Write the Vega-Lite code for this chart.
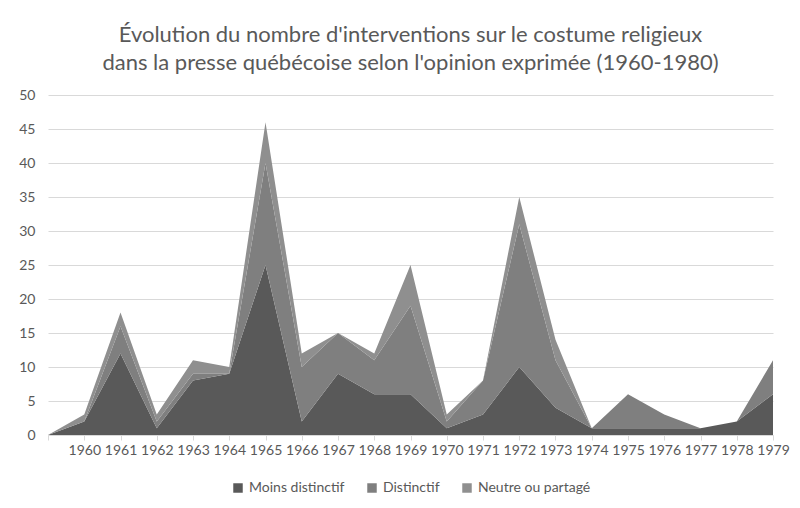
{
  "$schema": "https://vega.github.io/schema/vega-lite/v6.json",
  "width": 725,
  "height": 340,
  "autosize": {"type": "none"},
  "padding": {"left": 48, "top": 95, "right": 27, "bottom": 73},
  "background": "#ffffff",
  "title": {
    "text": ["Évolution du nombre d'interventions sur le costume religieux", "dans la presse québécoise selon l'opinion exprimée (1960-1980)"],
    "font": "Lato",
    "fontSize": 22,
    "fontWeight": "normal",
    "color": "#595959",
    "lineHeight": 28,
    "offset": 13,
    "anchor": "middle"
  },
  "data": {
    "values": [
      {"annee": 1959, "opinion": "Moins distinctif", "rang": 1, "n": 0},
      {"annee": 1959, "opinion": "Distinctif", "rang": 2, "n": 0},
      {"annee": 1959, "opinion": "Neutre ou partagé", "rang": 3, "n": 0},
      {"annee": 1960, "opinion": "Moins distinctif", "rang": 1, "n": 2},
      {"annee": 1960, "opinion": "Distinctif", "rang": 2, "n": 0},
      {"annee": 1960, "opinion": "Neutre ou partagé", "rang": 3, "n": 1},
      {"annee": 1961, "opinion": "Moins distinctif", "rang": 1, "n": 12},
      {"annee": 1961, "opinion": "Distinctif", "rang": 2, "n": 4},
      {"annee": 1961, "opinion": "Neutre ou partagé", "rang": 3, "n": 2},
      {"annee": 1962, "opinion": "Moins distinctif", "rang": 1, "n": 1},
      {"annee": 1962, "opinion": "Distinctif", "rang": 2, "n": 1},
      {"annee": 1962, "opinion": "Neutre ou partagé", "rang": 3, "n": 1},
      {"annee": 1963, "opinion": "Moins distinctif", "rang": 1, "n": 8},
      {"annee": 1963, "opinion": "Distinctif", "rang": 2, "n": 1},
      {"annee": 1963, "opinion": "Neutre ou partagé", "rang": 3, "n": 2},
      {"annee": 1964, "opinion": "Moins distinctif", "rang": 1, "n": 9},
      {"annee": 1964, "opinion": "Distinctif", "rang": 2, "n": 0},
      {"annee": 1964, "opinion": "Neutre ou partagé", "rang": 3, "n": 1},
      {"annee": 1965, "opinion": "Moins distinctif", "rang": 1, "n": 25},
      {"annee": 1965, "opinion": "Distinctif", "rang": 2, "n": 15},
      {"annee": 1965, "opinion": "Neutre ou partagé", "rang": 3, "n": 6},
      {"annee": 1966, "opinion": "Moins distinctif", "rang": 1, "n": 2},
      {"annee": 1966, "opinion": "Distinctif", "rang": 2, "n": 8},
      {"annee": 1966, "opinion": "Neutre ou partagé", "rang": 3, "n": 2},
      {"annee": 1967, "opinion": "Moins distinctif", "rang": 1, "n": 9},
      {"annee": 1967, "opinion": "Distinctif", "rang": 2, "n": 6},
      {"annee": 1967, "opinion": "Neutre ou partagé", "rang": 3, "n": 0},
      {"annee": 1968, "opinion": "Moins distinctif", "rang": 1, "n": 6},
      {"annee": 1968, "opinion": "Distinctif", "rang": 2, "n": 5},
      {"annee": 1968, "opinion": "Neutre ou partagé", "rang": 3, "n": 1},
      {"annee": 1969, "opinion": "Moins distinctif", "rang": 1, "n": 6},
      {"annee": 1969, "opinion": "Distinctif", "rang": 2, "n": 13},
      {"annee": 1969, "opinion": "Neutre ou partagé", "rang": 3, "n": 6},
      {"annee": 1970, "opinion": "Moins distinctif", "rang": 1, "n": 1},
      {"annee": 1970, "opinion": "Distinctif", "rang": 2, "n": 1},
      {"annee": 1970, "opinion": "Neutre ou partagé", "rang": 3, "n": 1},
      {"annee": 1971, "opinion": "Moins distinctif", "rang": 1, "n": 3},
      {"annee": 1971, "opinion": "Distinctif", "rang": 2, "n": 5},
      {"annee": 1971, "opinion": "Neutre ou partagé", "rang": 3, "n": 0},
      {"annee": 1972, "opinion": "Moins distinctif", "rang": 1, "n": 10},
      {"annee": 1972, "opinion": "Distinctif", "rang": 2, "n": 21},
      {"annee": 1972, "opinion": "Neutre ou partagé", "rang": 3, "n": 4},
      {"annee": 1973, "opinion": "Moins distinctif", "rang": 1, "n": 4},
      {"annee": 1973, "opinion": "Distinctif", "rang": 2, "n": 7},
      {"annee": 1973, "opinion": "Neutre ou partagé", "rang": 3, "n": 3},
      {"annee": 1974, "opinion": "Moins distinctif", "rang": 1, "n": 1},
      {"annee": 1974, "opinion": "Distinctif", "rang": 2, "n": 0},
      {"annee": 1974, "opinion": "Neutre ou partagé", "rang": 3, "n": 0},
      {"annee": 1975, "opinion": "Moins distinctif", "rang": 1, "n": 1},
      {"annee": 1975, "opinion": "Distinctif", "rang": 2, "n": 5},
      {"annee": 1975, "opinion": "Neutre ou partagé", "rang": 3, "n": 0},
      {"annee": 1976, "opinion": "Moins distinctif", "rang": 1, "n": 1},
      {"annee": 1976, "opinion": "Distinctif", "rang": 2, "n": 2},
      {"annee": 1976, "opinion": "Neutre ou partagé", "rang": 3, "n": 0},
      {"annee": 1977, "opinion": "Moins distinctif", "rang": 1, "n": 1},
      {"annee": 1977, "opinion": "Distinctif", "rang": 2, "n": 0},
      {"annee": 1977, "opinion": "Neutre ou partagé", "rang": 3, "n": 0},
      {"annee": 1978, "opinion": "Moins distinctif", "rang": 1, "n": 2},
      {"annee": 1978, "opinion": "Distinctif", "rang": 2, "n": 0},
      {"annee": 1978, "opinion": "Neutre ou partagé", "rang": 3, "n": 0},
      {"annee": 1979, "opinion": "Moins distinctif", "rang": 1, "n": 6},
      {"annee": 1979, "opinion": "Distinctif", "rang": 2, "n": 5},
      {"annee": 1979, "opinion": "Neutre ou partagé", "rang": 3, "n": 0}
    ]
  },
  "mark": {"type": "area", "interpolate": "linear", "opacity": 1},
  "encoding": {
    "x": {
      "field": "annee",
      "type": "quantitative",
      "scale": {"domain": [1959, 1979], "nice": false, "zero": false},
      "axis": {
        "title": null,
        "values": [1959, 1960, 1961, 1962, 1963, 1964, 1965, 1966, 1967, 1968, 1969, 1970, 1971, 1972, 1973, 1974, 1975, 1976, 1977, 1978, 1979],
        "labelExpr": "datum.value == 1959 ? '' : format(datum.value, 'd')",
        "grid": false,
        "domain": true,
        "domainColor": "#d9d9d9",
        "domainWidth": 1,
        "ticks": true,
        "tickColor": "#d9d9d9",
        "tickSize": 5,
        "labelPadding": 3,
        "labelFont": "Lato",
        "labelFontSize": 14,
        "labelColor": "#595959",
        "labelFlush": false,
        "labelOverlap": false
      }
    },
    "y": {
      "field": "n",
      "type": "quantitative",
      "stack": "zero",
      "scale": {"domain": [0, 50], "nice": false},
      "axis": {
        "title": null,
        "values": [0, 5, 10, 15, 20, 25, 30, 35, 40, 45, 50],
        "domain": false,
        "ticks": false,
        "grid": true,
        "gridColor": "#d9d9d9",
        "gridWidth": 1,
        "labelPadding": 13,
        "labelFont": "Lato",
        "labelFontSize": 14,
        "labelColor": "#595959"
      }
    },
    "color": {
      "field": "opinion",
      "type": "nominal",
      "scale": {
        "domain": ["Moins distinctif", "Distinctif", "Neutre ou partagé"],
        "range": ["#595959", "#7f7f7f", "#8f8f8f"]
      },
      "legend": {
        "title": null,
        "orient": "bottom",
        "direction": "horizontal",
        "symbolType": "square",
        "symbolSize": 90,
        "symbolStrokeWidth": 0,
        "labelFont": "Lato",
        "labelFontSize": 14,
        "labelColor": "#595959",
        "columnPadding": 20,
        "offset": 24
      }
    },
    "order": {"field": "rang", "type": "quantitative"}
  },
  "config": {
    "view": {"stroke": null},
    "legend": {"layout": {"bottom": {"anchor": "middle"}}}
  }
}
